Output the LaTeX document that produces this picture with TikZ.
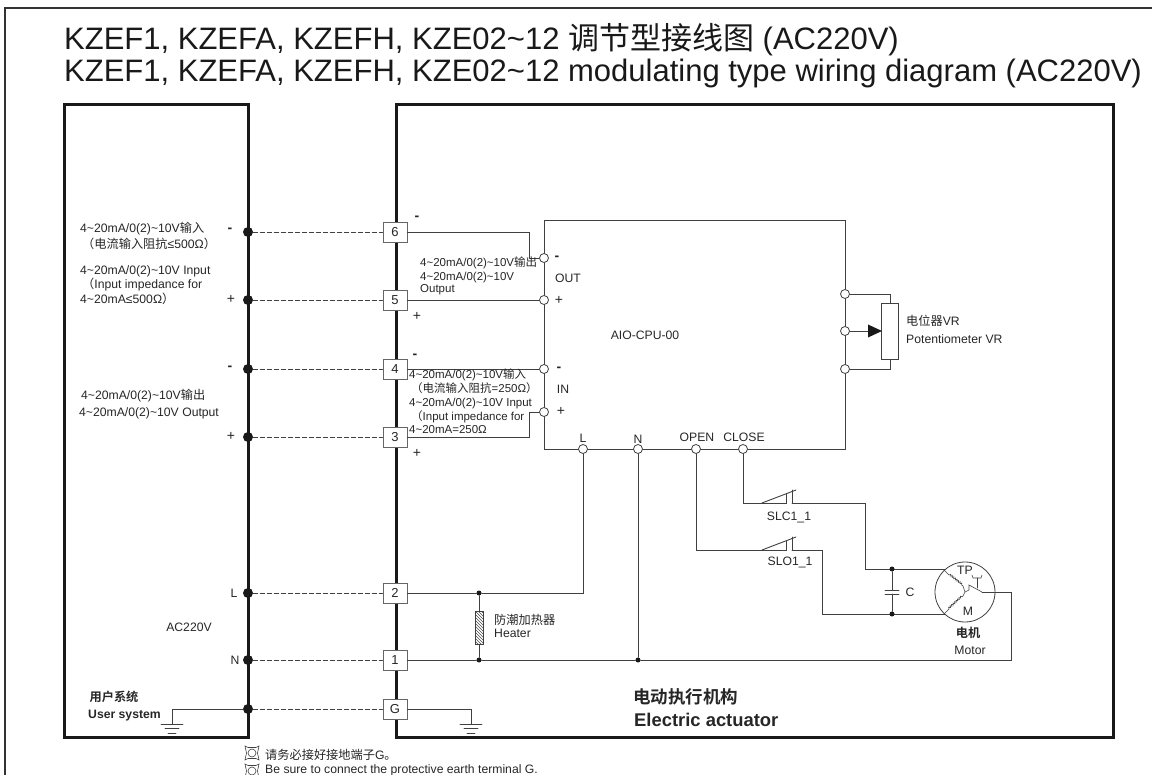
\documentclass[tikz,border=0pt]{standalone}
\usepackage{fontspec}
\setmainfont{Liberation Sans}
\newfontfamily\cjk{Noto Sans CJK SC}
\newfontfamily\cjkb{Noto Sans CJK SC Bold}
\usetikzlibrary{arrows, positioning, shapes, calc, decorations.pathmorphing, patterns}

\begin{document}
\begin{tikzpicture}[x=1pt, y=-1pt, line cap=round]
% styles
\tikzstyle{thickbox} = [draw=black!90, line width=3pt]
\tikzstyle{wire} = [draw=black!75, line width=0.9pt]
\tikzstyle{dashwire} = [draw=black!75, line width=0.8pt, dash pattern=on 4.5pt off 2.5pt]
\tikzstyle{terminal} = [rectangle, draw=black!60, fill=white, line width=0.9pt, minimum width=24pt, minimum height=20pt, inner sep=0pt, text=black!85, font=\fontsize{13}{13}\selectfont]
\tikzstyle{port} = [circle, draw=black!75, fill=white, line width=0.8pt, minimum size=9pt, inner sep=0pt]
\tikzstyle{bigdot} = [circle, fill=black!90, minimum size=10pt, inner sep=0pt]
\tikzstyle{smalldot} = [circle, fill=black!90, minimum size=5pt, inner sep=0pt]
\tikzstyle{lab} = [inner sep=0pt, anchor=west, align=left, text=black!85, font=\fontsize{12.2}{14}\selectfont]
\tikzstyle{labs} = [lab, font=\fontsize{11.5}{12}\selectfont]
\tikzstyle{sign} = [inner sep=0pt, text=black!85, font=\fontsize{14}{14}\selectfont]
\tikzstyle{note} = [inner sep=0pt, anchor=base west, text=black!85, font=\fontsize{12.2}{13}\selectfont]
\tikzstyle{coilline} = [draw=black!75, line width=0.6pt]
\tikzstyle{titletext} = [inner sep=0pt, anchor=base west, font=\fontsize{31}{31}\selectfont, text=black!90]
\useasboundingbox (0,0) rectangle (1152,775);

% outer frame and title
\draw [draw=black!80, line width=2pt] (5,775) -- (5,8) -- (1152,8);
\node [titletext] (title1) at (64,50) {KZEF1, KZEFA, KZEFH, KZE02\textasciitilde12 {\cjk 调节型接线图} (AC220V)};
\node [titletext] (title2) at (64,82) {KZEF1, KZEFA, KZEFH, KZE02\textasciitilde12 modulating type wiring diagram (AC220V)};

% the two systems
\draw [thickbox] (64,105) rectangle (248,737);
\draw [thickbox] (396,737) -- (396,105) -- (1113,105) -- (1113,737) -- cycle;

% terminals
\node [terminal] (t6) at (395,232) {6};
\node [terminal] (t5) at (395,300) {5};
\node [terminal] (t4) at (395,369) {4};
\node [terminal] (t3) at (395,437) {3};
\node [terminal] (t2) at (395,593) {2};
\node [terminal] (t1) at (395,660) {1};
\node [terminal] (tG) at (395,709) {G};

% user side dots and dashed links
\foreach \name/\yy in {6/232, 5/300, 4/369, 3/437, 2/593, 1/660, G/709} {
  \node [bigdot] (u\name) at (248,\yy) {};
  \path [dashwire] (u\name) -- (t\name);
}

% module
\draw [wire] (544,220) -- (845,220) -- (845,449) -- (544,449) -- cycle;
\node [port] (po1) at (544,258) {};
\node [port] (po2) at (544,300) {};
\node [port] (pi1) at (544,369) {};
\node [port] (pi2) at (544,412) {};
\node [port] (pL) at (583,449) {};
\node [port] (pN) at (638,449) {};
\node [port] (pO) at (696,449) {};
\node [port] (pC) at (743,449) {};
\node [port] (pv1) at (845,294) {};
\node [port] (pv2) at (845,331) {};
\node [port] (pv3) at (845,369) {};

% links to the module
\path [wire] (t6) -- (529,232) -- (529,258) -- (po1);
\path [wire] (t5) -- (po2);
\path [wire] (t4) -- (pi1);
\path [wire] (t3) -- (529,437) -- (529,412) -- (pi2);

% potentiometer
\node [rectangle, draw=black!75, fill=white, line width=0.9pt, minimum width=17pt, minimum height=56pt, inner sep=0pt] (vr) at (890,331) {};
\path [wire] (pv1) -| (vr.north);
\path [wire] (pv3) -| (vr.south);
\path [wire] (pv2) -- (868,331);
\fill [black!90] (868,324.5) -- (882,331) -- (868,337.5) -- cycle;

% heater
\node [smalldot] (h2) at (479,593) {};
\node [smalldot] (h1) at (479,660) {};
\node [smalldot] (n1) at (638,660) {};
\node [rectangle, draw=black!75, pattern=north west lines, pattern color=black!70, line width=0.7pt, minimum width=8pt, minimum height=33pt, inner sep=0pt] (heat) at (479,627.5) {};
\path [wire] (h2) -- (heat) -- (h1);
\path [wire] (t2) -- (h2) -- (583,593) -- (pL);
\path [wire] (t1) -- (h1) -- (n1) -- (1011,660) -- (1011,592) -- (982,592);
\path [wire] (pN) -- (n1);

% earth
\foreach \xx/\src/\nm in {172/uG/a, 471/tG/b} {
  \coordinate (e\nm) at (\xx,724);
  \path [wire] (\src) -| (e\nm);
  \draw [wire] (\xx-11,724) -- (\xx+11,724);
  \draw [wire] (\xx-7,728.5) -- (\xx+7,728.5);
  \draw [wire] (\xx-4,733) -- (\xx+4,733);
}

% limit switches
\foreach \xx/\yy/\src/\yb/\xb/\nm in {743/503/pC/569/865/c, 696/550/pO/614/822/o} {
  \coordinate (sw\nm a) at (762,\yy);
  \coordinate (sw\nm b) at (792,\yy);
  \path [wire] (\src) |- (sw\nm a);
  \draw [wire] (sw\nm a) -- (796,\yy-13);
  \draw [wire] (sw\nm a) -- (786,\yy) -- (786,\yy-9);
  \draw [wire] (sw\nm b) -- (792,\yy-13);
  \path [wire] (sw\nm b) -- (\xb,\yy) -- (\xb,\yb) -- (945,\yb);
}

% capacitor and motor
\node [smalldot] (c1) at (892,569) {};
\node [smalldot] (c2) at (892,614) {};
\coordinate (cp1) at (892,590.5);
\coordinate (cp2) at (892,594);
\path [wire] (c1) -- (cp1);
\path [wire] (c2) -- (cp2);
\draw [wire] (885,590.5) -- (899,590.5);
\draw [wire] (885,594) -- (899,594);
\node [circle, draw=black!75, line width=0.8pt, minimum size=60pt, inner sep=0pt] (motor) at (965,592) {};
\draw [coilline] (944,570) -- (949,575);
\draw [coilline, decorate, decoration={bumps, segment length=4pt, amplitude=1.6pt}] (949,575) -- (963,586);
\draw [coilline] (963,586) -- (965,592) -- (963,596);
\draw [coilline] (944,614) -- (949,609);
\draw [coilline, decorate, decoration={bumps, segment length=4pt, amplitude=1.6pt}] (949,609) -- (963,596);
\draw [coilline] (965,592) -- (969,590) -- (969,585) -- (982,592);
\draw [coilline] (977,588) -- (977,578);
\draw [coilline] (972,575) -- (973,578) -- (981,578) -- (982,575);

% texts on the user side
\node [lab] (ui1) at (80,229) {4\textasciitilde20mA/0(2)\textasciitilde10V{\cjk 输入}};
\node [lab] (ui2) at (82,244) {{\cjk （电流输入阻抗}≤500Ω{\cjk ）}};
\node [lab, font=\fontsize{12.2}{14.3}\selectfont] (ui3) at (80,285) {4\textasciitilde20mA/0(2)\textasciitilde10V Input\\\hspace{2pt}{\cjk （}Input impedance for\\4\textasciitilde20mA≤500Ω{\cjk ）}};
\node [lab] (ui4) at (81,396) {4\textasciitilde20mA/0(2)\textasciitilde10V{\cjk 输出}};
\node [lab] (ui5) at (79,413) {4\textasciitilde20mA/0(2)\textasciitilde10V Output};
\node [sign] (su6) at (230,230) {\textbf{-}};
\node [sign] (su5) at (231,299) {+};
\node [sign] (su4) at (230,368) {\textbf{-}};
\node [sign] (su3) at (231,436) {+};
\node [lab, anchor=center] (sL) at (234,593) {L};
\node [lab, anchor=center] (sN) at (235,660) {N};
\node [lab, anchor=center] (ac) at (189,627) {AC220V};
\node [lab, anchor=center, font=\fontsize{12.2}{13}\selectfont] (us1) at (114,697) {\cjkb 用户系统};
\node [lab, anchor=west, font=\bfseries\fontsize{12.2}{13}\selectfont] (us2) at (88,716) {User system};

% texts beside the terminals
\node [sign] (st6) at (417,218) {\textbf{-}};
\node [sign] (st5) at (417,316) {+};
\node [sign] (st4) at (415,356) {\textbf{-}};
\node [sign] (st3) at (417,453) {+};

\node [labs] (oa) at (420,263) {4\textasciitilde20mA/0(2)\textasciitilde10V{\cjk 输出}};
\node [labs] (ob) at (420,284) {4\textasciitilde20mA/0(2)\textasciitilde10V\\Output};
\node [labs] (ia) at (409,375) {4\textasciitilde20mA/0(2)\textasciitilde10V{\cjk 输入}};
\node [labs] (ib) at (411,388) {{\cjk （电流输入阻抗}=250Ω{\cjk ）}};
\node [labs] (ic) at (409,404) {4\textasciitilde20mA/0(2)\textasciitilde10V Input};
\node [labs] (id) at (411,417) {{\cjk （}Input impedance for};
\node [labs] (ie) at (409,430) {4\textasciitilde20mA=250Ω};

% texts in the module
\node [sign] (mo1) at (557,258) {\textbf{-}};
\node [sign] (mo2) at (559,300) {+};
\node [sign] (mi1) at (559,369) {\textbf{-}};
\node [sign] (mi2) at (561,411) {+};
\node [lab, anchor=center] (lout) at (568,278) {OUT};
\node [lab, anchor=center] (lin) at (563,389) {IN};
\node [lab, anchor=center] (cpu) at (645,335) {AIO-CPU-00};
\node [lab, anchor=center] (lL) at (583,438) {L};
\node [lab, anchor=center] (lN) at (638,439) {N};
\node [lab, anchor=center] (lO) at (697,437) {OPEN};
\node [lab, anchor=center] (lC) at (744,437) {CLOSE};
\node [lab] (v1) at (906,321) {{\cjk 电位器}VR};
\node [lab] (v2) at (906,339) {Potentiometer VR};
\node [lab, anchor=center] (sc) at (789,517) {SLC1\_1};
\node [lab, anchor=center] (so) at (790,562) {SLO1\_1};
\node [lab, anchor=center] (lcap) at (910,592) {C};
\node [lab, anchor=center] (tp) at (965,570) {TP};
\node [lab, anchor=center] (mm) at (968,611) {M};
\node [lab, anchor=center] (mc) at (968,633) {\cjkb 电机};
\node [lab, anchor=center] (mt) at (970,650) {Motor};
\node [lab, font=\fontsize{12.2}{13}\selectfont] (ha) at (494,625.5) {{\cjk 防潮加热器}\\Heater};
\node [lab, anchor=west, font=\fontsize{17.5}{18}\selectfont] (ea1) at (633,697) {\cjkb 电动执行机构};
\node [lab, anchor=west, font=\bfseries\fontsize{18.4}{19}\selectfont] (ea2) at (634,720) {Electric actuator};

% notes below
\foreach \yy/\nm in {753/a, 771/b} {
  \draw [coilline] (252,\yy) circle (4pt);
  \draw [coilline] (245,\yy-7) -- (248,\yy-5.5) -- (256,\yy-5.5) -- (259,\yy-7) -- (257.5,\yy) -- (259,\yy+7) -- (256,\yy+5.5) -- (248,\yy+5.5) -- (245,\yy+7) -- (246.5,\yy) -- cycle;
}
\node [note] (na) at (265,759) {{\cjk 请务必接好接地端子}G{\cjk 。}};
\node [note] (nb) at (265,773) {Be sure to connect the protective earth terminal G.};
\end{tikzpicture}
\end{document}
